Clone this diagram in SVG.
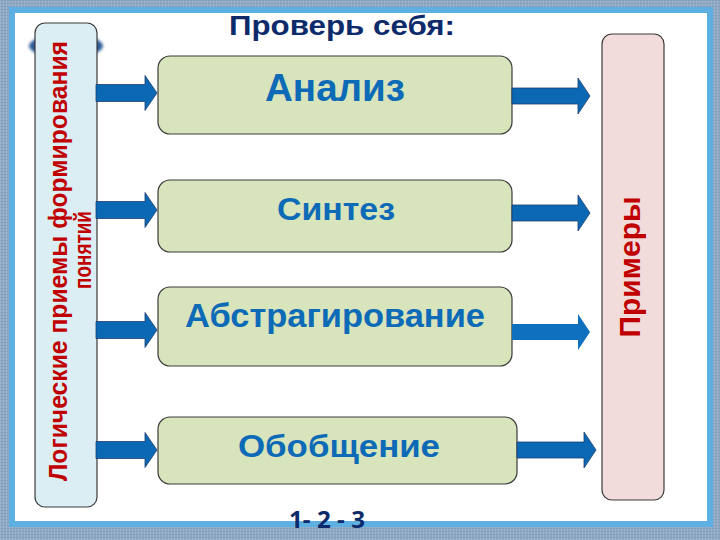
<svg xmlns="http://www.w3.org/2000/svg" width="720" height="540" viewBox="0 0 720 540">
<defs>
<style>
.t{font-family:"Liberation Sans",Arial,sans-serif;font-weight:bold}
.box{fill:#d7e4bc;stroke:#3b3b3b;stroke-width:1.2}
.lbl{fill:#0d6ab6;text-anchor:middle}
.arr{fill:#0b68b5;stroke:#1d3f70;stroke-width:0.8}
</style>
<pattern id="tex" width="3" height="3" patternUnits="userSpaceOnUse">
<rect width="3" height="3" fill="#8ea8c3"/>
<rect width="1" height="3" fill="#9fb6cd"/>
<rect width="3" height="1" fill="#7f9bb8" opacity="0.6"/>
</pattern>
<filter id="blur" x="-50%" y="-50%" width="200%" height="200%"><feGaussianBlur stdDeviation="1.6"/></filter>
</defs>
<rect width="720" height="540" fill="url(#tex)"/>
<rect x="9" y="7" width="704" height="520" fill="#5fb0e2"/>
<rect x="15" y="13" width="692" height="508" fill="#ffffff"/>

<text class="t" x="342" y="35" font-size="28" fill="#0d2b6b" text-anchor="middle" textLength="226" lengthAdjust="spacingAndGlyphs">Проверь себя:</text>

<g id="left">
<ellipse cx="66" cy="46" rx="37" ry="12" fill="#2a5a95" filter="url(#blur)"/>
<rect x="35" y="23" width="62" height="484" rx="10" fill="#dbeef4" stroke="#3b3b3b" stroke-width="1.2"/>
<text class="t" font-size="25" fill="#c00000" text-anchor="middle" transform="translate(67,261) rotate(-90)" textLength="440" lengthAdjust="spacingAndGlyphs">Логические приемы формирования</text>
<text class="t" font-size="23" fill="#c00000" text-anchor="middle" transform="translate(91,250) rotate(-90)" textLength="78" lengthAdjust="spacingAndGlyphs">понятий</text>
</g>

<g id="right">
<rect x="602" y="34" width="62" height="466" rx="10" fill="#f2dcdb" stroke="#3b3b3b" stroke-width="1.2"/>
<text class="t" font-size="30" fill="#c00000" text-anchor="middle" transform="translate(640,267) rotate(-90)">Примеры</text>
</g>

<g id="n1">
<rect class="box" x="158" y="56" width="354" height="78" rx="12"/>
<text class="t lbl" x="335" y="101" font-size="38" textLength="140" lengthAdjust="spacingAndGlyphs">Анализ</text>
</g>
<g id="n2">
<rect class="box" x="158" y="180" width="354" height="72" rx="12"/>
<text class="t lbl" x="336" y="220" font-size="31" textLength="118" lengthAdjust="spacingAndGlyphs">Синтез</text>
</g>
<g id="n3">
<rect class="box" x="158" y="287" width="354" height="79" rx="12"/>
<text class="t lbl" x="335" y="327" font-size="34" textLength="300" lengthAdjust="spacingAndGlyphs">Абстрагирование</text>
</g>
<g id="n4">
<rect class="box" x="158" y="417" width="359" height="67" rx="12"/>
<text class="t lbl" x="339" y="457" font-size="31" textLength="202" lengthAdjust="spacingAndGlyphs">Обобщение</text>
</g>

<g id="connectors">
<path class="arr" d="M96,84.5 H145 V75.5 L157,93 L145,110.5 V101.5 H96 Z"/>
<path class="arr" d="M96,201.5 H145 V192.5 L157,210 L145,227.5 V218.5 H96 Z"/>
<path class="arr" d="M96,321.5 H145 V312.5 L157,330 L145,347.5 V338.5 H96 Z"/>
<path class="arr" d="M96,441.5 H145 V432.5 L157,450 L145,467.5 V458.5 H96 Z"/>
<path class="arr" d="M512,88 H578 V78 L590,96 L578,114 V104 H512 Z"/>
<path class="arr" d="M512,205 H578 V195 L590,213 L578,231 V221 H512 Z"/>
<path class="arr" d="M512,324 H578 V314 L590,332 L578,350 V340 H512 Z" style="stroke:none;fill:#0f70c0"/>
<path class="arr" d="M517,442 H584 V432 L596,450 L584,468 V458 H517 Z"/>
</g>

<text x="327" y="528" font-family="'Open Sans','Noto Sans',sans-serif" font-weight="bold" font-size="23" fill="#0d2b6b" text-anchor="middle" textLength="76" lengthAdjust="spacingAndGlyphs">1- 2 - 3</text>
</svg>
